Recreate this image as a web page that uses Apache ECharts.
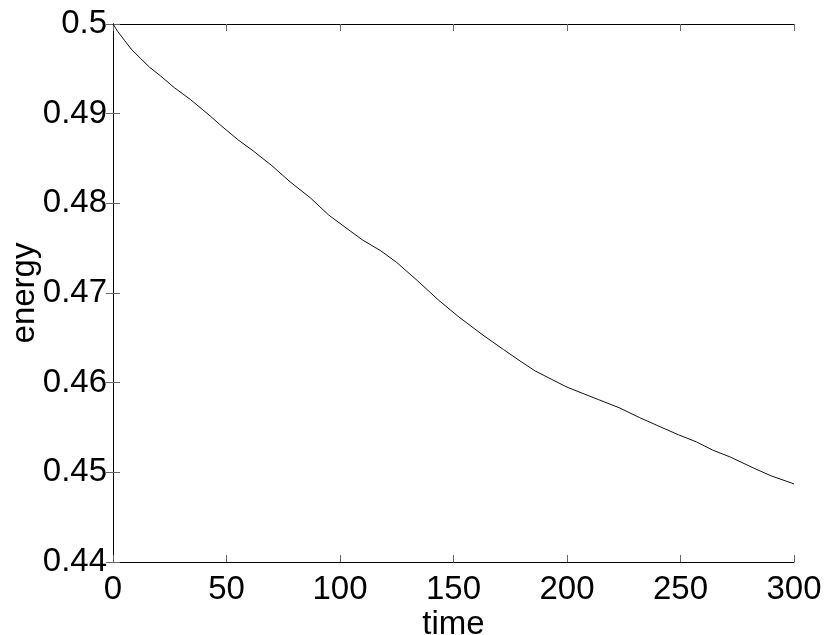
<!DOCTYPE html>
<html>
<head>
<meta charset="utf-8">
<script src="https://cdn.jsdelivr.net/npm/echarts@6/dist/echarts.min.js"></script>
<style>
html,body{margin:0;padding:0;background:#fff;}
#chart{width:830px;height:635px;}
</style>
</head>
<body>
<div id="chart"></div>
<script>
const time = [0, 2, 5, 8, 12, 16, 21, 27, 34, 43, 47, 55, 62, 70, 78, 87, 95, 103, 110, 118, 125, 134, 143, 152, 163, 172, 180, 186, 193, 200, 207, 214, 223, 232, 240, 249, 257, 264, 272, 282, 290, 299, 300];
const energy = [0.5000, 0.4992, 0.4982, 0.4972, 0.4962, 0.4952, 0.4942, 0.4929, 0.4916, 0.4897, 0.4888, 0.4871, 0.4858, 0.4842, 0.4824, 0.4806, 0.4787, 0.4772, 0.4759, 0.4747, 0.4734, 0.4714, 0.4693, 0.4674, 0.4653, 0.4637, 0.4623, 0.4613, 0.4604, 0.4595, 0.4588, 0.4581, 0.4572, 0.4561, 0.4552, 0.4542, 0.4534, 0.4525, 0.4517, 0.4505, 0.4496, 0.4488, 0.4487];
const xTicks = [0, 50, 100, 150, 200, 250, 300];
const yTicks = [0.44, 0.45, 0.46, 0.47, 0.48, 0.49, 0.5];

const font = 'Liberation Sans, Arial, Helvetica, sans-serif';
const chart = echarts.init(document.getElementById('chart'));
const axisLine = {show: true, lineStyle: {color: '#000', width: 1}};
const tick = {show: true, inside: true, length: 7, lineStyle: {color: '#666', width: 1}};
chart.setOption({
  animation: false,
  grid: {left: 113, right: 36, top: 24, bottom: 73, containLabel: false, outerBoundsMode: 'none'},
  xAxis: [{
    type: 'value', min: xTicks[0], max: xTicks[xTicks.length - 1], interval: 50,
    position: 'bottom',
    name: 'time', nameLocation: 'middle', nameGap: 46, nameMoveOverlap: false,
    nameTextStyle: {fontFamily: font, fontSize: 33, color: '#000'},
    axisLine: axisLine, axisTick: tick, splitLine: {show: false},
    axisLabel: {fontFamily: font, fontSize: 33, color: '#000', margin: 11}
  }, {
    type: 'value', min: xTicks[0], max: xTicks[xTicks.length - 1], interval: 50,
    position: 'top',
    axisLine: axisLine, axisTick: tick, splitLine: {show: false},
    axisLabel: {show: false}
  }],
  yAxis: [{
    type: 'value', min: yTicks[0], max: yTicks[yTicks.length - 1], interval: 0.01,
    position: 'left',
    name: 'energy', nameLocation: 'middle', nameGap: 72, nameMoveOverlap: false,
    nameTextStyle: {fontFamily: font, fontSize: 33, color: '#000'},
    axisLine: axisLine, axisTick: tick, splitLine: {show: false},
    axisLabel: {fontFamily: font, fontSize: 33, color: '#000', margin: 6,
      formatter: v => String(+v.toFixed(2))}
  }, {
    type: 'value', min: yTicks[0], max: yTicks[yTicks.length - 1], interval: 0.01,
    position: 'right',
    axisLine: axisLine, axisTick: tick, splitLine: {show: false},
    axisLabel: {show: false}
  }],
  series: [{
    type: 'line',
    xAxisIndex: 0, yAxisIndex: 0,
    data: time.map((t, i) => [t, energy[i]]),
    showSymbol: false, smooth: false,
    lineStyle: {color: '#111', width: 1}
  }]
});
</script>
</body>
</html>
